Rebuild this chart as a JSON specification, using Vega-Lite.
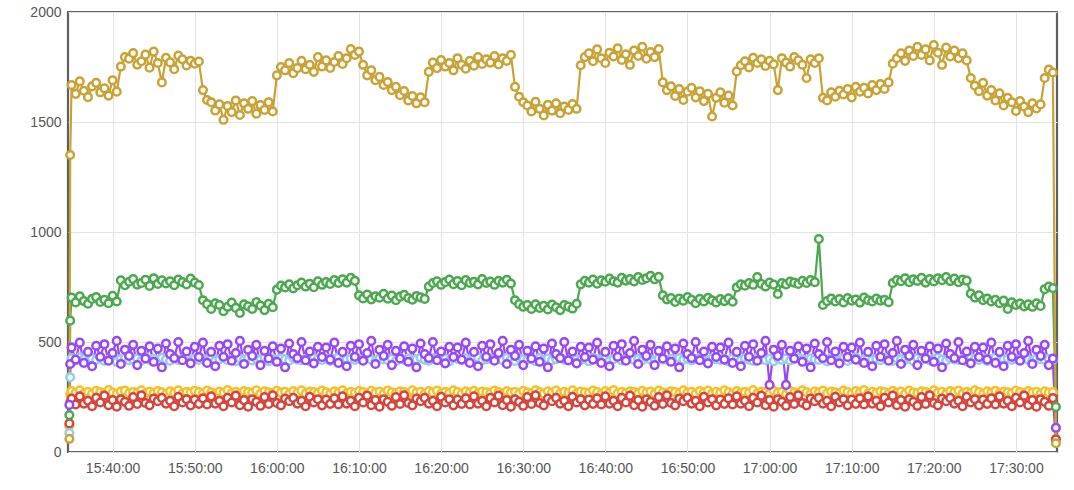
{
  "$schema": "https://vega.github.io/schema/vega-lite/v6.json",
  "width": 989,
  "height": 440,
  "autosize": "none",
  "padding": {"left": 68, "top": 12, "right": 17, "bottom": 38},
  "background": "white",
  "config": {
    "view": {"stroke": "#5f5f5f", "strokeWidth": 2.2},
    "font": "Liberation Sans"
  },
  "data": {
    "values": [
      {"t":"2020-01-01T15:34:44","s1":118,"s2":130,"s3":86,"s4":214,"s5":168,"s6":60},
      {"t":"2020-01-01T15:34:50","s1":262,"s2":225,"s3":340,"s4":400,"s5":597,"s6":1350},
      {"t":"2020-01-01T15:35:00","s1":277,"s2":243,"s3":426,"s4":475,"s5":702,"s6":1668},
      {"t":"2020-01-01T15:35:30","s1":269,"s2":216,"s3":416,"s4":420,"s5":680,"s6":1628},
      {"t":"2020-01-01T15:36:00","s1":280,"s2":253,"s3":430,"s4":497,"s5":708,"s6":1685},
      {"t":"2020-01-01T15:36:30","s1":266,"s2":220,"s3":422,"s4":405,"s5":686,"s6":1642},
      {"t":"2020-01-01T15:37:00","s1":274,"s2":233,"s3":412,"s4":455,"s5":674,"s6":1613},
      {"t":"2020-01-01T15:37:30","s1":264,"s2":208,"s3":424,"s4":390,"s5":696,"s6":1662},
      {"t":"2020-01-01T15:38:00","s1":278,"s2":246,"s3":418,"s4":483,"s5":704,"s6":1678},
      {"t":"2020-01-01T15:38:30","s1":272,"s2":225,"s3":428,"s4":433,"s5":682,"s6":1635},
      {"t":"2020-01-01T15:39:00","s1":268,"s2":256,"s3":414,"s4":490,"s5":692,"s6":1653},
      {"t":"2020-01-01T15:39:30","s1":281,"s2":213,"s3":420,"s4":415,"s5":676,"s6":1620},
      {"t":"2020-01-01T15:40:00","s1":270,"s2":236,"s3":425,"s4":450,"s5":710,"s6":1690},
      {"t":"2020-01-01T15:40:30","s1":265,"s2":206,"s3":410,"s4":505,"s5":684,"s6":1638},
      {"t":"2020-01-01T15:41:00","s1":276,"s2":240,"s3":423,"s4":400,"s5":780,"s6":1752},
      {"t":"2020-01-01T15:41:30","s1":279,"s2":228,"s3":427,"s4":465,"s5":758,"s6":1795},
      {"t":"2020-01-01T15:42:00","s1":267,"s2":210,"s3":417,"s4":437,"s5":774,"s6":1788},
      {"t":"2020-01-01T15:42:30","s1":273,"s2":250,"s3":421,"s4":487,"s5":786,"s6":1813},
      {"t":"2020-01-01T15:43:00","s1":270,"s2":218,"s3":426,"s4":395,"s5":761,"s6":1761},
      {"t":"2020-01-01T15:43:30","s1":280,"s2":258,"s3":416,"s4":460,"s5":768,"s6":1776},
      {"t":"2020-01-01T15:44:00","s1":266,"s2":223,"s3":430,"s4":425,"s5":783,"s6":1806},
      {"t":"2020-01-01T15:44:30","s1":275,"s2":212,"s3":419,"s4":480,"s5":755,"s6":1747},
      {"t":"2020-01-01T15:45:00","s1":268,"s2":243,"s3":424,"s4":410,"s5":790,"s6":1820},
      {"t":"2020-01-01T15:45:30","s1":277,"s2":231,"s3":412,"s4":470,"s5":764,"s6":1768},
      {"t":"2020-01-01T15:46:00","s1":271,"s2":246,"s3":428,"s4":385,"s5":780,"s6":1680},
      {"t":"2020-01-01T15:46:30","s1":263,"s2":220,"s3":420,"s4":493,"s5":766,"s6":1792},
      {"t":"2020-01-01T15:47:00","s1":276,"s2":233,"s3":415,"s4":445,"s5":776,"s6":1771},
      {"t":"2020-01-01T15:47:30","s1":269,"s2":208,"s3":426,"s4":427,"s5":758,"s6":1740},
      {"t":"2020-01-01T15:48:00","s1":280,"s2":251,"s3":418,"s4":500,"s5":784,"s6":1802},
      {"t":"2020-01-01T15:48:30","s1":266,"s2":225,"s3":422,"s4":417,"s5":772,"s6":1785},
      {"t":"2020-01-01T15:49:00","s1":274,"s2":240,"s3":429,"s4":457,"s5":762,"s6":1757},
      {"t":"2020-01-01T15:49:30","s1":270,"s2":212,"s3":413,"s4":403,"s5":788,"s6":1778},
      {"t":"2020-01-01T15:50:00","s1":278,"s2":238,"s3":425,"s4":478,"s5":770,"s6":1765},
      {"t":"2020-01-01T15:50:30","s1":272,"s2":219,"s3":419,"s4":432,"s5":759,"s6":1775},
      {"t":"2020-01-01T15:51:00","s1":267,"s2":244,"s3":424,"s4":497,"s5":690,"s6":1645},
      {"t":"2020-01-01T15:51:30","s1":279,"s2":216,"s3":418,"s4":405,"s5":672,"s6":1600},
      {"t":"2020-01-01T15:52:00","s1":271,"s2":253,"s3":426,"s4":455,"s5":650,"s6":1590},
      {"t":"2020-01-01T15:52:30","s1":264,"s2":220,"s3":414,"s4":390,"s5":676,"s6":1552},
      {"t":"2020-01-01T15:53:00","s1":275,"s2":233,"s3":421,"s4":483,"s5":668,"s6":1580},
      {"t":"2020-01-01T15:53:30","s1":270,"s2":208,"s3":428,"s4":433,"s5":640,"s6":1510},
      {"t":"2020-01-01T15:54:00","s1":281,"s2":246,"s3":417,"s4":490,"s5":660,"s6":1573},
      {"t":"2020-01-01T15:54:30","s1":268,"s2":225,"s3":422,"s4":415,"s5":679,"s6":1545},
      {"t":"2020-01-01T15:55:00","s1":274,"s2":256,"s3":412,"s4":450,"s5":655,"s6":1598},
      {"t":"2020-01-01T15:55:30","s1":266,"s2":213,"s3":425,"s4":505,"s5":632,"s6":1532},
      {"t":"2020-01-01T15:56:00","s1":277,"s2":236,"s3":419,"s4":400,"s5":671,"s6":1585},
      {"t":"2020-01-01T15:56:30","s1":273,"s2":206,"s3":427,"s4":465,"s5":662,"s6":1560},
      {"t":"2020-01-01T15:57:00","s1":269,"s2":240,"s3":416,"s4":437,"s5":650,"s6":1595},
      {"t":"2020-01-01T15:57:30","s1":280,"s2":228,"s3":423,"s4":487,"s5":681,"s6":1538},
      {"t":"2020-01-01T15:58:00","s1":265,"s2":210,"s3":420,"s4":395,"s5":666,"s6":1577},
      {"t":"2020-01-01T15:58:30","s1":276,"s2":250,"s3":429,"s4":460,"s5":645,"s6":1555},
      {"t":"2020-01-01T15:59:00","s1":271,"s2":218,"s3":413,"s4":425,"s5":674,"s6":1590},
      {"t":"2020-01-01T15:59:30","s1":268,"s2":258,"s3":424,"s4":480,"s5":658,"s6":1548},
      {"t":"2020-01-01T16:00:00","s1":278,"s2":223,"s3":418,"s4":410,"s5":738,"s6":1712},
      {"t":"2020-01-01T16:00:30","s1":270,"s2":212,"s3":426,"s4":470,"s5":756,"s6":1750},
      {"t":"2020-01-01T16:01:00","s1":274,"s2":243,"s3":421,"s4":385,"s5":748,"s6":1735},
      {"t":"2020-01-01T16:01:30","s1":263,"s2":231,"s3":415,"s4":493,"s5":762,"s6":1768},
      {"t":"2020-01-01T16:02:00","s1":277,"s2":246,"s3":428,"s4":445,"s5":744,"s6":1722},
      {"t":"2020-01-01T16:02:30","s1":269,"s2":220,"s3":420,"s4":427,"s5":758,"s6":1745},
      {"t":"2020-01-01T16:03:00","s1":280,"s2":233,"s3":417,"s4":500,"s5":770,"s6":1778},
      {"t":"2020-01-01T16:03:30","s1":266,"s2":208,"s3":424,"s4":417,"s5":752,"s6":1740},
      {"t":"2020-01-01T16:04:00","s1":275,"s2":251,"s3":412,"s4":457,"s5":765,"s6":1760},
      {"t":"2020-01-01T16:04:30","s1":272,"s2":225,"s3":427,"s4":403,"s5":749,"s6":1728},
      {"t":"2020-01-01T16:05:00","s1":268,"s2":240,"s3":423,"s4":478,"s5":776,"s6":1795},
      {"t":"2020-01-01T16:05:30","s1":279,"s2":212,"s3":418,"s4":432,"s5":760,"s6":1752},
      {"t":"2020-01-01T16:06:00","s1":271,"s2":238,"s3":426,"s4":475,"s5":772,"s6":1780},
      {"t":"2020-01-01T16:06:30","s1":264,"s2":219,"s3":414,"s4":420,"s5":764,"s6":1746},
      {"t":"2020-01-01T16:07:00","s1":276,"s2":244,"s3":422,"s4":497,"s5":781,"s6":1773},
      {"t":"2020-01-01T16:07:30","s1":270,"s2":216,"s3":429,"s4":405,"s5":768,"s6":1800},
      {"t":"2020-01-01T16:08:00","s1":280,"s2":253,"s3":416,"s4":455,"s5":785,"s6":1764},
      {"t":"2020-01-01T16:08:30","s1":267,"s2":220,"s3":421,"s4":390,"s5":770,"s6":1790},
      {"t":"2020-01-01T16:09:00","s1":274,"s2":233,"s3":425,"s4":483,"s5":792,"s6":1832},
      {"t":"2020-01-01T16:09:30","s1":269,"s2":208,"s3":419,"s4":433,"s5":778,"s6":1805},
      {"t":"2020-01-01T16:10:00","s1":277,"s2":246,"s3":423,"s4":490,"s5":712,"s6":1820},
      {"t":"2020-01-01T16:10:30","s1":272,"s2":225,"s3":417,"s4":415,"s5":698,"s6":1760},
      {"t":"2020-01-01T16:11:00","s1":266,"s2":256,"s3":428,"s4":450,"s5":716,"s6":1712},
      {"t":"2020-01-01T16:11:30","s1":278,"s2":213,"s3":420,"s4":505,"s5":694,"s6":1735},
      {"t":"2020-01-01T16:12:00","s1":270,"s2":236,"s3":414,"s4":400,"s5":708,"s6":1690},
      {"t":"2020-01-01T16:12:30","s1":275,"s2":206,"s3":426,"s4":465,"s5":701,"s6":1705},
      {"t":"2020-01-01T16:13:00","s1":264,"s2":240,"s3":421,"s4":437,"s5":719,"s6":1668},
      {"t":"2020-01-01T16:13:30","s1":279,"s2":228,"s3":418,"s4":487,"s5":697,"s6":1682},
      {"t":"2020-01-01T16:14:00","s1":271,"s2":210,"s3":424,"s4":395,"s5":711,"s6":1645},
      {"t":"2020-01-01T16:14:30","s1":268,"s2":250,"s3":413,"s4":460,"s5":690,"s6":1660},
      {"t":"2020-01-01T16:15:00","s1":276,"s2":218,"s3":427,"s4":425,"s5":706,"s6":1622},
      {"t":"2020-01-01T16:15:30","s1":273,"s2":258,"s3":419,"s4":480,"s5":714,"s6":1641},
      {"t":"2020-01-01T16:16:00","s1":267,"s2":223,"s3":425,"s4":410,"s5":700,"s6":1598},
      {"t":"2020-01-01T16:16:30","s1":280,"s2":212,"s3":416,"s4":470,"s5":692,"s6":1618},
      {"t":"2020-01-01T16:17:00","s1":270,"s2":243,"s3":422,"s4":385,"s5":709,"s6":1585},
      {"t":"2020-01-01T16:17:30","s1":274,"s2":231,"s3":428,"s4":493,"s5":703,"s6":1612},
      {"t":"2020-01-01T16:18:00","s1":265,"s2":246,"s3":420,"s4":445,"s5":696,"s6":1590},
      {"t":"2020-01-01T16:18:30","s1":277,"s2":220,"s3":415,"s4":427,"s5":752,"s6":1728},
      {"t":"2020-01-01T16:19:00","s1":271,"s2":233,"s3":426,"s4":500,"s5":768,"s6":1770},
      {"t":"2020-01-01T16:19:30","s1":279,"s2":208,"s3":421,"s4":417,"s5":776,"s6":1745},
      {"t":"2020-01-01T16:20:00","s1":266,"s2":251,"s3":418,"s4":457,"s5":760,"s6":1782},
      {"t":"2020-01-01T16:20:30","s1":274,"s2":225,"s3":424,"s4":403,"s5":772,"s6":1752},
      {"t":"2020-01-01T16:21:00","s1":269,"s2":240,"s3":412,"s4":478,"s5":784,"s6":1768},
      {"t":"2020-01-01T16:21:30","s1":280,"s2":212,"s3":427,"s4":432,"s5":763,"s6":1735},
      {"t":"2020-01-01T16:22:00","s1":272,"s2":238,"s3":423,"s4":475,"s5":777,"s6":1790},
      {"t":"2020-01-01T16:22:30","s1":264,"s2":219,"s3":418,"s4":420,"s5":758,"s6":1760},
      {"t":"2020-01-01T16:23:00","s1":276,"s2":244,"s3":426,"s4":497,"s5":781,"s6":1742},
      {"t":"2020-01-01T16:23:30","s1":270,"s2":216,"s3":414,"s4":405,"s5":769,"s6":1778},
      {"t":"2020-01-01T16:24:00","s1":278,"s2":253,"s3":422,"s4":455,"s5":774,"s6":1756},
      {"t":"2020-01-01T16:24:30","s1":267,"s2":220,"s3":429,"s4":390,"s5":762,"s6":1795},
      {"t":"2020-01-01T16:25:00","s1":275,"s2":233,"s3":416,"s4":483,"s5":786,"s6":1764},
      {"t":"2020-01-01T16:25:30","s1":271,"s2":208,"s3":421,"s4":433,"s5":768,"s6":1785},
      {"t":"2020-01-01T16:26:00","s1":268,"s2":246,"s3":425,"s4":490,"s5":775,"s6":1770},
      {"t":"2020-01-01T16:26:30","s1":279,"s2":225,"s3":419,"s4":415,"s5":760,"s6":1800},
      {"t":"2020-01-01T16:27:00","s1":273,"s2":256,"s3":423,"s4":450,"s5":778,"s6":1762},
      {"t":"2020-01-01T16:27:30","s1":266,"s2":213,"s3":417,"s4":505,"s5":770,"s6":1790},
      {"t":"2020-01-01T16:28:00","s1":277,"s2":236,"s3":428,"s4":400,"s5":783,"s6":1778},
      {"t":"2020-01-01T16:28:30","s1":270,"s2":206,"s3":420,"s4":465,"s5":766,"s6":1805},
      {"t":"2020-01-01T16:29:00","s1":274,"s2":240,"s3":414,"s4":437,"s5":690,"s6":1660},
      {"t":"2020-01-01T16:29:30","s1":264,"s2":228,"s3":426,"s4":487,"s5":672,"s6":1615},
      {"t":"2020-01-01T16:30:00","s1":278,"s2":210,"s3":421,"s4":395,"s5":660,"s6":1590},
      {"t":"2020-01-01T16:30:30","s1":271,"s2":250,"s3":418,"s4":460,"s5":668,"s6":1575},
      {"t":"2020-01-01T16:31:00","s1":268,"s2":218,"s3":424,"s4":425,"s5":650,"s6":1548},
      {"t":"2020-01-01T16:31:30","s1":280,"s2":258,"s3":413,"s4":480,"s5":671,"s6":1592},
      {"t":"2020-01-01T16:32:00","s1":272,"s2":223,"s3":427,"s4":410,"s5":655,"s6":1560},
      {"t":"2020-01-01T16:32:30","s1":265,"s2":212,"s3":419,"s4":470,"s5":664,"s6":1530},
      {"t":"2020-01-01T16:33:00","s1":276,"s2":243,"s3":425,"s4":385,"s5":648,"s6":1578},
      {"t":"2020-01-01T16:33:30","s1":270,"s2":231,"s3":416,"s4":493,"s5":670,"s6":1552},
      {"t":"2020-01-01T16:34:00","s1":279,"s2":246,"s3":422,"s4":445,"s5":658,"s6":1585},
      {"t":"2020-01-01T16:34:30","s1":267,"s2":220,"s3":428,"s4":427,"s5":645,"s6":1540},
      {"t":"2020-01-01T16:35:00","s1":274,"s2":233,"s3":420,"s4":500,"s5":668,"s6":1570},
      {"t":"2020-01-01T16:35:30","s1":269,"s2":208,"s3":415,"s4":417,"s5":661,"s6":1555},
      {"t":"2020-01-01T16:36:00","s1":280,"s2":251,"s3":426,"s4":457,"s5":652,"s6":1582},
      {"t":"2020-01-01T16:36:30","s1":266,"s2":225,"s3":421,"s4":403,"s5":674,"s6":1560},
      {"t":"2020-01-01T16:37:00","s1":275,"s2":240,"s3":418,"s4":478,"s5":762,"s6":1758},
      {"t":"2020-01-01T16:37:30","s1":271,"s2":212,"s3":424,"s4":432,"s5":778,"s6":1795},
      {"t":"2020-01-01T16:38:00","s1":268,"s2":238,"s3":412,"s4":475,"s5":770,"s6":1812},
      {"t":"2020-01-01T16:38:30","s1":279,"s2":219,"s3":427,"s4":420,"s5":784,"s6":1776},
      {"t":"2020-01-01T16:39:00","s1":272,"s2":244,"s3":423,"s4":497,"s5":765,"s6":1830},
      {"t":"2020-01-01T16:39:30","s1":264,"s2":216,"s3":418,"s4":405,"s5":780,"s6":1790},
      {"t":"2020-01-01T16:40:00","s1":277,"s2":253,"s3":426,"s4":455,"s5":774,"s6":1768},
      {"t":"2020-01-01T16:40:30","s1":270,"s2":220,"s3":414,"s4":390,"s5":788,"s6":1815},
      {"t":"2020-01-01T16:41:00","s1":281,"s2":233,"s3":422,"s4":483,"s5":776,"s6":1798},
      {"t":"2020-01-01T16:41:30","s1":267,"s2":208,"s3":429,"s4":433,"s5":770,"s6":1835},
      {"t":"2020-01-01T16:42:00","s1":274,"s2":246,"s3":416,"s4":490,"s5":792,"s6":1782},
      {"t":"2020-01-01T16:42:30","s1":269,"s2":225,"s3":421,"s4":415,"s5":779,"s6":1808},
      {"t":"2020-01-01T16:43:00","s1":276,"s2":256,"s3":425,"s4":450,"s5":786,"s6":1760},
      {"t":"2020-01-01T16:43:30","s1":273,"s2":213,"s3":419,"s4":505,"s5":775,"s6":1825},
      {"t":"2020-01-01T16:44:00","s1":266,"s2":236,"s3":423,"s4":400,"s5":795,"s6":1800},
      {"t":"2020-01-01T16:44:30","s1":278,"s2":206,"s3":417,"s4":465,"s5":782,"s6":1842},
      {"t":"2020-01-01T16:45:00","s1":270,"s2":240,"s3":428,"s4":437,"s5":790,"s6":1788},
      {"t":"2020-01-01T16:45:30","s1":275,"s2":228,"s3":420,"s4":487,"s5":801,"s6":1818},
      {"t":"2020-01-01T16:46:00","s1":264,"s2":210,"s3":414,"s4":395,"s5":785,"s6":1795},
      {"t":"2020-01-01T16:46:30","s1":279,"s2":250,"s3":426,"s4":460,"s5":796,"s6":1832},
      {"t":"2020-01-01T16:47:00","s1":271,"s2":218,"s3":421,"s4":425,"s5":712,"s6":1680},
      {"t":"2020-01-01T16:47:30","s1":268,"s2":258,"s3":418,"s4":480,"s5":694,"s6":1645},
      {"t":"2020-01-01T16:48:00","s1":276,"s2":223,"s3":424,"s4":410,"s5":700,"s6":1662},
      {"t":"2020-01-01T16:48:30","s1":273,"s2":212,"s3":413,"s4":470,"s5":682,"s6":1618},
      {"t":"2020-01-01T16:49:00","s1":267,"s2":243,"s3":427,"s4":385,"s5":698,"s6":1650},
      {"t":"2020-01-01T16:49:30","s1":280,"s2":231,"s3":419,"s4":493,"s5":688,"s6":1600},
      {"t":"2020-01-01T16:50:00","s1":270,"s2":246,"s3":425,"s4":445,"s5":704,"s6":1638},
      {"t":"2020-01-01T16:50:30","s1":274,"s2":220,"s3":416,"s4":427,"s5":692,"s6":1655},
      {"t":"2020-01-01T16:51:00","s1":265,"s2":233,"s3":422,"s4":500,"s5":676,"s6":1612},
      {"t":"2020-01-01T16:51:30","s1":277,"s2":208,"s3":428,"s4":417,"s5":696,"s6":1640},
      {"t":"2020-01-01T16:52:00","s1":271,"s2":251,"s3":420,"s4":457,"s5":684,"s6":1595},
      {"t":"2020-01-01T16:52:30","s1":279,"s2":225,"s3":415,"s4":403,"s5":701,"s6":1628},
      {"t":"2020-01-01T16:53:00","s1":266,"s2":240,"s3":426,"s4":478,"s5":690,"s6":1525},
      {"t":"2020-01-01T16:53:30","s1":274,"s2":212,"s3":421,"s4":432,"s5":680,"s6":1610},
      {"t":"2020-01-01T16:54:00","s1":269,"s2":238,"s3":418,"s4":475,"s5":695,"s6":1635},
      {"t":"2020-01-01T16:54:30","s1":280,"s2":219,"s3":424,"s4":420,"s5":686,"s6":1588},
      {"t":"2020-01-01T16:55:00","s1":272,"s2":244,"s3":412,"s4":497,"s5":699,"s6":1620},
      {"t":"2020-01-01T16:55:30","s1":264,"s2":216,"s3":427,"s4":405,"s5":683,"s6":1575},
      {"t":"2020-01-01T16:56:00","s1":277,"s2":253,"s3":423,"s4":455,"s5":748,"s6":1730},
      {"t":"2020-01-01T16:56:30","s1":270,"s2":220,"s3":417,"s4":390,"s5":762,"s6":1758},
      {"t":"2020-01-01T16:57:00","s1":274,"s2":233,"s3":426,"s4":483,"s5":756,"s6":1776},
      {"t":"2020-01-01T16:57:30","s1":269,"s2":208,"s3":420,"s4":433,"s5":768,"s6":1748},
      {"t":"2020-01-01T16:58:00","s1":281,"s2":246,"s3":414,"s4":490,"s5":760,"s6":1792},
      {"t":"2020-01-01T16:58:30","s1":267,"s2":225,"s3":428,"s4":415,"s5":795,"s6":1768},
      {"t":"2020-01-01T16:59:00","s1":275,"s2":256,"s3":421,"s4":450,"s5":764,"s6":1785},
      {"t":"2020-01-01T16:59:30","s1":272,"s2":213,"s3":418,"s4":505,"s5":752,"s6":1755},
      {"t":"2020-01-01T17:00:00","s1":266,"s2":236,"s3":424,"s4":305,"s5":770,"s6":1778},
      {"t":"2020-01-01T17:00:30","s1":278,"s2":206,"s3":413,"s4":465,"s5":761,"s6":1762},
      {"t":"2020-01-01T17:01:00","s1":270,"s2":240,"s3":427,"s4":437,"s5":718,"s6":1645},
      {"t":"2020-01-01T17:01:30","s1":274,"s2":228,"s3":419,"s4":487,"s5":768,"s6":1790},
      {"t":"2020-01-01T17:02:00","s1":263,"s2":210,"s3":425,"s4":305,"s5":762,"s6":1770},
      {"t":"2020-01-01T17:02:30","s1":277,"s2":250,"s3":416,"s4":460,"s5":775,"s6":1752},
      {"t":"2020-01-01T17:03:00","s1":271,"s2":218,"s3":422,"s4":425,"s5":770,"s6":1795},
      {"t":"2020-01-01T17:03:30","s1":268,"s2":258,"s3":428,"s4":480,"s5":764,"s6":1780},
      {"t":"2020-01-01T17:04:00","s1":280,"s2":223,"s3":420,"s4":410,"s5":778,"s6":1760},
      {"t":"2020-01-01T17:04:30","s1":272,"s2":212,"s3":415,"s4":470,"s5":768,"s6":1700},
      {"t":"2020-01-01T17:05:00","s1":265,"s2":243,"s3":426,"s4":385,"s5":781,"s6":1785},
      {"t":"2020-01-01T17:05:30","s1":276,"s2":231,"s3":421,"s4":493,"s5":772,"s6":1768},
      {"t":"2020-01-01T17:06:00","s1":270,"s2":246,"s3":418,"s4":445,"s5":968,"s6":1790},
      {"t":"2020-01-01T17:06:30","s1":279,"s2":220,"s3":424,"s4":427,"s5":668,"s6":1610},
      {"t":"2020-01-01T17:07:00","s1":267,"s2":233,"s3":412,"s4":500,"s5":686,"s6":1598},
      {"t":"2020-01-01T17:07:30","s1":275,"s2":208,"s3":427,"s4":417,"s5":698,"s6":1635},
      {"t":"2020-01-01T17:08:00","s1":271,"s2":251,"s3":423,"s4":457,"s5":684,"s6":1615},
      {"t":"2020-01-01T17:08:30","s1":268,"s2":225,"s3":418,"s4":403,"s5":695,"s6":1642},
      {"t":"2020-01-01T17:09:00","s1":279,"s2":240,"s3":426,"s4":478,"s5":680,"s6":1625},
      {"t":"2020-01-01T17:09:30","s1":273,"s2":212,"s3":414,"s4":432,"s5":700,"s6":1650},
      {"t":"2020-01-01T17:10:00","s1":266,"s2":238,"s3":422,"s4":475,"s5":688,"s6":1612},
      {"t":"2020-01-01T17:10:30","s1":277,"s2":219,"s3":429,"s4":420,"s5":693,"s6":1660},
      {"t":"2020-01-01T17:11:00","s1":270,"s2":244,"s3":416,"s4":497,"s5":679,"s6":1638},
      {"t":"2020-01-01T17:11:30","s1":281,"s2":216,"s3":421,"s4":405,"s5":702,"s6":1655},
      {"t":"2020-01-01T17:12:00","s1":267,"s2":253,"s3":425,"s4":455,"s5":690,"s6":1630},
      {"t":"2020-01-01T17:12:30","s1":274,"s2":220,"s3":419,"s4":390,"s5":684,"s6":1668},
      {"t":"2020-01-01T17:13:00","s1":269,"s2":233,"s3":423,"s4":483,"s5":697,"s6":1645},
      {"t":"2020-01-01T17:13:30","s1":276,"s2":208,"s3":417,"s4":433,"s5":688,"s6":1672},
      {"t":"2020-01-01T17:14:00","s1":273,"s2":246,"s3":428,"s4":490,"s5":692,"s6":1650},
      {"t":"2020-01-01T17:14:30","s1":266,"s2":225,"s3":420,"s4":415,"s5":681,"s6":1680},
      {"t":"2020-01-01T17:15:00","s1":278,"s2":256,"s3":414,"s4":450,"s5":768,"s6":1765},
      {"t":"2020-01-01T17:15:30","s1":270,"s2":213,"s3":426,"s4":505,"s5":782,"s6":1790},
      {"t":"2020-01-01T17:16:00","s1":275,"s2":236,"s3":421,"s4":400,"s5":776,"s6":1812},
      {"t":"2020-01-01T17:16:30","s1":264,"s2":206,"s3":418,"s4":465,"s5":790,"s6":1778},
      {"t":"2020-01-01T17:17:00","s1":279,"s2":240,"s3":424,"s4":437,"s5":772,"s6":1825},
      {"t":"2020-01-01T17:17:30","s1":271,"s2":228,"s3":413,"s4":487,"s5":785,"s6":1800},
      {"t":"2020-01-01T17:18:00","s1":268,"s2":210,"s3":427,"s4":395,"s5":778,"s6":1842},
      {"t":"2020-01-01T17:18:30","s1":276,"s2":250,"s3":419,"s4":460,"s5":792,"s6":1805},
      {"t":"2020-01-01T17:19:00","s1":273,"s2":218,"s3":425,"s4":425,"s5":770,"s6":1830},
      {"t":"2020-01-01T17:19:30","s1":267,"s2":258,"s3":416,"s4":480,"s5":786,"s6":1780},
      {"t":"2020-01-01T17:20:00","s1":280,"s2":223,"s3":422,"s4":410,"s5":775,"s6":1850},
      {"t":"2020-01-01T17:20:30","s1":270,"s2":212,"s3":428,"s4":470,"s5":790,"s6":1815},
      {"t":"2020-01-01T17:21:00","s1":274,"s2":243,"s3":420,"s4":385,"s5":781,"s6":1760},
      {"t":"2020-01-01T17:21:30","s1":265,"s2":231,"s3":415,"s4":493,"s5":795,"s6":1838},
      {"t":"2020-01-01T17:22:00","s1":277,"s2":246,"s3":426,"s4":445,"s5":777,"s6":1798},
      {"t":"2020-01-01T17:22:30","s1":271,"s2":220,"s3":421,"s4":427,"s5":788,"s6":1825},
      {"t":"2020-01-01T17:23:00","s1":279,"s2":233,"s3":418,"s4":500,"s5":772,"s6":1790},
      {"t":"2020-01-01T17:23:30","s1":266,"s2":208,"s3":424,"s4":417,"s5":784,"s6":1812},
      {"t":"2020-01-01T17:24:00","s1":274,"s2":251,"s3":412,"s4":457,"s5":779,"s6":1780},
      {"t":"2020-01-01T17:24:30","s1":269,"s2":225,"s3":427,"s4":403,"s5":720,"s6":1700},
      {"t":"2020-01-01T17:25:00","s1":280,"s2":240,"s3":423,"s4":478,"s5":702,"s6":1665},
      {"t":"2020-01-01T17:25:30","s1":272,"s2":212,"s3":418,"s4":432,"s5":712,"s6":1640},
      {"t":"2020-01-01T17:26:00","s1":264,"s2":238,"s3":426,"s4":475,"s5":690,"s6":1678},
      {"t":"2020-01-01T17:26:30","s1":276,"s2":219,"s3":414,"s4":420,"s5":698,"s6":1620},
      {"t":"2020-01-01T17:27:00","s1":270,"s2":244,"s3":422,"s4":497,"s5":684,"s6":1645},
      {"t":"2020-01-01T17:27:30","s1":278,"s2":216,"s3":429,"s4":405,"s5":692,"s6":1598},
      {"t":"2020-01-01T17:28:00","s1":267,"s2":253,"s3":416,"s4":455,"s5":676,"s6":1630},
      {"t":"2020-01-01T17:28:30","s1":275,"s2":220,"s3":421,"s4":390,"s5":688,"s6":1575},
      {"t":"2020-01-01T17:29:00","s1":271,"s2":233,"s3":425,"s4":483,"s5":650,"s6":1610},
      {"t":"2020-01-01T17:29:30","s1":268,"s2":208,"s3":419,"s4":433,"s5":680,"s6":1590},
      {"t":"2020-01-01T17:30:00","s1":279,"s2":246,"s3":423,"s4":490,"s5":668,"s6":1550},
      {"t":"2020-01-01T17:30:30","s1":273,"s2":225,"s3":417,"s4":415,"s5":675,"s6":1595},
      {"t":"2020-01-01T17:31:00","s1":266,"s2":256,"s3":428,"s4":450,"s5":662,"s6":1570},
      {"t":"2020-01-01T17:31:30","s1":277,"s2":213,"s3":420,"s4":505,"s5":671,"s6":1545},
      {"t":"2020-01-01T17:32:00","s1":270,"s2":236,"s3":414,"s4":400,"s5":660,"s6":1585},
      {"t":"2020-01-01T17:32:30","s1":274,"s2":206,"s3":426,"s4":465,"s5":676,"s6":1562},
      {"t":"2020-01-01T17:33:00","s1":265,"s2":240,"s3":421,"s4":437,"s5":664,"s6":1580},
      {"t":"2020-01-01T17:33:30","s1":276,"s2":228,"s3":418,"s4":487,"s5":740,"s6":1700},
      {"t":"2020-01-01T17:34:00","s1":270,"s2":210,"s3":424,"s4":395,"s5":752,"s6":1738},
      {"t":"2020-01-01T17:34:30","s1":272,"s2":245,"s3":420,"s4":425,"s5":745,"s6":1725},
      {"t":"2020-01-01T17:34:52","s1":60,"s2":58,"s3":110,"s4":110,"s5":205,"s6":40}
    ]
  },
  "transform": [
    {"fold": ["s1", "s2", "s3", "s4", "s5", "s6"], "as": ["key", "value"]}
  ],
  "encoding": {
    "x": {
      "field": "t",
      "type": "temporal",
      "title": null,
      "scale": {
        "domain": [
          {"year": 2020, "month": 1, "date": 1, "hours": 15, "minutes": 34, "seconds": 34},
          {"year": 2020, "month": 1, "date": 1, "hours": 17, "minutes": 35, "seconds": 0}
        ]
      },
      "axis": {
        "format": "%H:%M:%S",
        "values": [
          {"year": 2020, "month": 1, "date": 1, "hours": 15, "minutes": 40},
          {"year": 2020, "month": 1, "date": 1, "hours": 15, "minutes": 50},
          {"year": 2020, "month": 1, "date": 1, "hours": 16, "minutes": 0},
          {"year": 2020, "month": 1, "date": 1, "hours": 16, "minutes": 10},
          {"year": 2020, "month": 1, "date": 1, "hours": 16, "minutes": 20},
          {"year": 2020, "month": 1, "date": 1, "hours": 16, "minutes": 30},
          {"year": 2020, "month": 1, "date": 1, "hours": 16, "minutes": 40},
          {"year": 2020, "month": 1, "date": 1, "hours": 16, "minutes": 50},
          {"year": 2020, "month": 1, "date": 1, "hours": 17, "minutes": 0},
          {"year": 2020, "month": 1, "date": 1, "hours": 17, "minutes": 10},
          {"year": 2020, "month": 1, "date": 1, "hours": 17, "minutes": 20},
          {"year": 2020, "month": 1, "date": 1, "hours": 17, "minutes": 30}
        ],
        "domain": false,
        "ticks": false,
        "grid": true,
        "labelFontSize": 14,
        "labelColor": "#555",
        "labelPadding": 9,
        "gridColor": "#e3e3e3",
        "labelFlush": false
      }
    },
    "y": {
      "field": "value",
      "type": "quantitative",
      "title": null,
      "scale": {"domain": [0, 2000], "nice": false},
      "axis": {
        "values": [0, 500, 1000, 1500, 2000],
        "format": "d",
        "domain": false,
        "ticks": false,
        "grid": true,
        "labelFontSize": 14,
        "labelColor": "#555",
        "labelPadding": 7,
        "gridColor": "#e3e3e3"
      }
    }
  },
  "layer": [
    {
      "mark": {"type": "line", "strokeWidth": 2.2},
      "encoding": {
        "color": {
          "field": "key",
          "type": "nominal",
          "legend": null,
          "scale": {
            "domain": ["s1", "s2", "s3", "s4", "s5", "s6"],
            "range": ["#f2c12e", "#d6453d", "#93cdef", "#9747f5", "#4aa84e", "#c9a235"]
          }
        }
      }
    },
    {
      "mark": {"type": "point", "shape": "circle", "size": 58, "fill": "white", "strokeWidth": 2.5, "opacity": 1},
      "encoding": {
        "stroke": {
          "field": "key",
          "type": "nominal",
          "legend": null,
          "scale": {
            "domain": ["s1", "s2", "s3", "s4", "s5", "s6"],
            "range": ["#f2c12e", "#d6453d", "#93cdef", "#9747f5", "#4aa84e", "#c9a235"]
          }
        },
        "order": {"field": "key", "type": "nominal"}
      }
    }
  ]
}
